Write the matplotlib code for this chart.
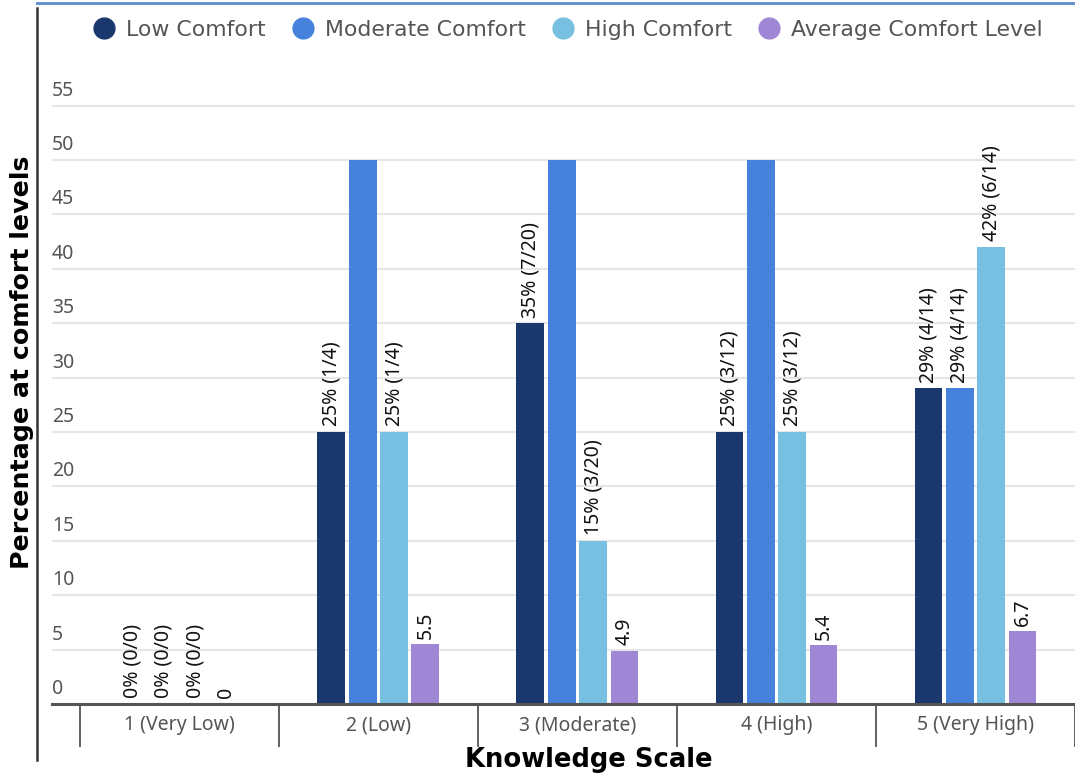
import matplotlib
matplotlib.use('Agg')
import matplotlib.pyplot as plt
import matplotlib.transforms as mtransforms
from matplotlib.lines import Line2D
import numpy as np

plt.rcParams['font.family'] = 'Noto Sans'

# データ
categories = ['1 (Very Low)', '2 (Low)', '3 (Moderate)', '4 (High)', '5 (Very High)']
series_names = ['Low Comfort', 'Moderate Comfort', 'High Comfort', 'Average Comfort Level']
low = [0, 25, 35, 25, 29]
moderate = [0, 50, 50, 50, 29]
high = [0, 25, 15, 25, 42]
average = [0, 5.5, 4.9, 5.4, 6.7]
low_labels = ['0% (0/0)', '25% (1/4)', '35% (7/20)', '25% (3/12)', '29% (4/14)']
moderate_labels = ['0% (0/0)', '', '', '', '29% (4/14)']
high_labels = ['0% (0/0)', '25% (1/4)', '15% (3/20)', '25% (3/12)', '42% (6/14)']
average_labels = ['0', '5.5', '4.9', '5.4', '6.7']
yticks = [0, 5, 10, 15, 20, 25, 30, 35, 40, 45, 50, 55]

colors = ['#1a386d', '#4682dc', '#77c0e1', '#a087d5']

W, H = 1075, 775
fig = plt.figure(figsize=(W / 100, H / 100), dpi=100)
ax = fig.add_axes([52 / W, (H - 704) / H, (W - 52) / W, 636.5 / H])

x = np.arange(1, len(categories) + 1)
step = 0.1575
width = 0.14
all_vals = [low, moderate, high, average]
all_lbls = [low_labels, moderate_labels, high_labels, average_labels]
for i, (vals, lbls) in enumerate(zip(all_vals, all_lbls)):
    pos = x + (i - 1.5) * step
    bars = ax.bar(pos, vals, width, color=colors[i], zorder=3, label=series_names[i])
    for b, v, t in zip(bars, vals, lbls):
        if t:
            ax.annotate(t, (b.get_x() + b.get_width() / 2, v), xytext=(0, 4),
                        textcoords='offset points', rotation=90, ha='center', va='bottom',
                        fontsize=14, color='#111111', zorder=4)

ax.set_xlim(0.5 - 28 / 200, 0.5 + (W - 80) / 200)
ax.set_ylim(0, 58.5)

# グリッドとy軸ラベル
ax.set_yticks(yticks)
ax.set_yticklabels([])
ax.tick_params(axis='y', length=0)
ax.grid(axis='y', color='#e6e6e6', lw=1.5, zorder=0)
lab_tr = mtransforms.offset_copy(ax.get_yaxis_transform(), fig=fig, x=0, y=5, units='dots')
for yv in yticks:
    ax.text(0, yv, str(yv), transform=lab_tr, ha='left', va='bottom', fontsize=14, color='#555555')

# x軸: カテゴリ名と区切り線
ax.set_xticks(x)
ax.set_xticklabels(categories, fontsize=14, color='#555555')
ax.tick_params(axis='x', which='major', length=0, pad=8)
ax.set_xticks(np.arange(0.5, len(categories) + 1, 1), minor=True)
ax.tick_params(axis='x', which='minor', length=31, width=1.3, color='#555555')

for s in ['top', 'right', 'left']:
    ax.spines[s].set_visible(False)
ax.spines['bottom'].set_color('#555555')
ax.spines['bottom'].set_linewidth(2.2)
ax.spines['bottom'].set_zorder(5)

fig.text(22 / W, 1 - 362 / H, 'Percentage at comfort levels', rotation=90, ha='center', va='center',
         fontsize=18.2, fontweight='bold', family='DejaVu Sans', color='black')
fig.text(589 / W, 1 - 760 / H, 'Knowledge Scale', ha='center', va='center',
         fontsize=18.6, fontweight='bold', family='DejaVu Sans', color='black')

# 凡例
handles = [Line2D([], [], marker='o', ls='', markersize=15, color=c) for c in colors]
leg = fig.legend(handles, series_names, loc='center', bbox_to_anchor=(568 / W, 1 - 30 / H), ncol=4,
                 frameon=False, handlelength=1.0, handletextpad=0.5, columnspacing=1.2,
                 prop={'family': 'DejaVu Sans', 'size': 15.8})
for t in leg.get_texts():
    t.set_color('#555555')

# 外枠の線
fig.add_artist(Line2D([37 / W, 37 / W], [1 - 8 / H, 1 - 760 / H], color='#333333', lw=1.8))
fig.add_artist(Line2D([37 / W, 1], [1 - 3 / H, 1 - 3 / H], color='#5b8bd0', lw=2))

fig.savefig('out.png', dpi=100)
